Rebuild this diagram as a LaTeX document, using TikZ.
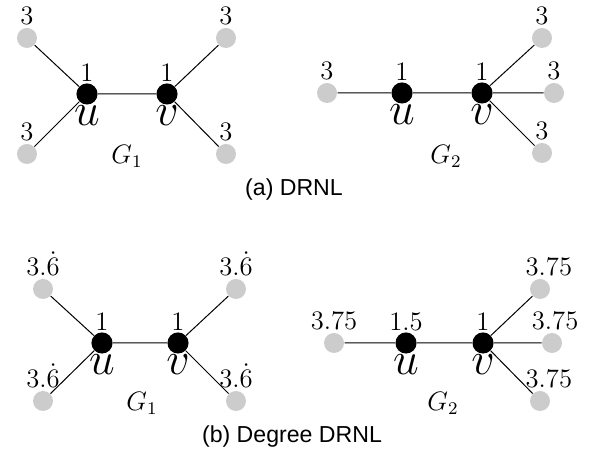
\documentclass[tikz,border=0pt]{standalone}
\usepackage{fontspec}
\newfontfamily\capfont{Liberation Sans}
\usepackage{tikz}

\definecolor{leafgray}{RGB}{204,204,204}

\begin{document}
\begin{tikzpicture}[x=0.45pt,y=-0.45pt]
    \tikzstyle{leaf}=[circle,fill=leafgray,inner sep=0pt,minimum size=9pt]
    \tikzstyle{hub}=[circle,fill=black,inner sep=0pt,minimum size=9.5pt]
    \tikzstyle{num}=[inner sep=0pt,label distance=0.5pt,font=\large]
    \tikzstyle{far}=[inner sep=0pt,label distance=1.2pt,font=\large]
    \tikzstyle{uv}=[inner sep=0pt,label distance=0pt,font=\huge]
    \tikzstyle{glabel}=[font=\large]
    \tikzstyle{caption}=[font=\capfont\fontsize{10.4}{12}\selectfont]
    \tikzstyle{every path}=[line width=0.45pt]

    \useasboundingbox (0,0) rectangle (594,455);

    % (a) DRNL, G_1
    \node[hub,label={[num]above:$1$},label={[uv]below:$u$}] (ua) at (87,94) {};
    \node[hub,label={[num]above:$1$},label={[uv]below:$v$}] (va) at (167,94) {};
    \node[leaf,label={[far]above:$3$}] (a1) at (27,38) {};
    \node[leaf,label={[far]above:$3$}] (a2) at (27,154) {};
    \node[leaf,label={[far]above:$3$}] (a3) at (226,38) {};
    \node[leaf,label={[far]above:$3$}] (a4) at (226,154) {};
    \node[glabel] (ga) at (127,156) {$G_1$};

    \draw (a1) -- (ua)
          (a2) -- (ua)
          (ua) -- (va)
          (va) -- (a3)
          (va) -- (a4);

    % (a) DRNL, G_2
    \node[hub,label={[num]above:$1$},label={[uv]below:$u$}] (ub) at (402,93) {};
    \node[hub,label={[num]above:$1$},label={[uv]below:$v$}] (vb) at (482,93) {};
    \node[leaf,label={[far]above:$3$}] (b1) at (327,93) {};
    \node[leaf,label={[far]above:$3$}] (b2) at (542,38) {};
    \node[leaf,label={[far]above:$3$}] (b3) at (554,93) {};
    \node[leaf,label={[far]above:$3$}] (b4) at (542,153) {};
    \node[glabel] (gb) at (446,156) {$G_2$};

    \draw (b1) -- (ub)
          (ub) -- (vb)
          (vb) -- (b2)
          (vb) -- (b3)
          (vb) -- (b4);

    \node[caption] (capa) at (294,190) {(a) DRNL};

    % (b) Degree DRNL, G_1
    \node[hub,label={[num]above:$1$},label={[uv]below:$u$}] (uc) at (102,343) {};
    \node[hub,label={[num]above:$1$},label={[uv]below:$v$}] (vc) at (178,343) {};
    \node[leaf,label={[far]above:$3.\dot{6}$}] (c1) at (43,289) {};
    \node[leaf,label={[far]above:$3.\dot{6}$}] (c2) at (43,401) {};
    \node[leaf,label={[far]above:$3.\dot{6}$}] (c3) at (236,289) {};
    \node[leaf,label={[far]above:$3.\dot{6}$}] (c4) at (236,401) {};
    \node[glabel] (gc) at (142,403) {$G_1$};

    \draw (c1) -- (uc)
          (c2) -- (uc)
          (uc) -- (vc)
          (vc) -- (c3)
          (vc) -- (c4);

    % (b) Degree DRNL, G_2
    \node[hub,label={[num]above:$1.5$},label={[uv]below:$u$}] (ud) at (406,343) {};
    \node[hub,label={[num]above:$1$},label={[uv]below:$v$}] (vd) at (483,343) {};
    \node[leaf,label={[far]above:$3.75$}] (d1) at (334,343) {};
    \node[leaf,label={[far,xshift=4pt]above:$3.75$}] (d2) at (540,289) {};
    \node[leaf,label={[far,xshift=1.4pt]above:$3.75$}] (d3) at (552,343) {};
    \node[leaf,label={[far,xshift=4pt]above:$3.75$}] (d4) at (540,401) {};
    \node[glabel] (gd) at (443,403) {$G_2$};

    \draw (d1) -- (ud)
          (ud) -- (vd)
          (vd) -- (d2)
          (vd) -- (d3)
          (vd) -- (d4);

    \node[caption] (capb) at (292,437) {(b) Degree DRNL};
\end{tikzpicture}
\end{document}
